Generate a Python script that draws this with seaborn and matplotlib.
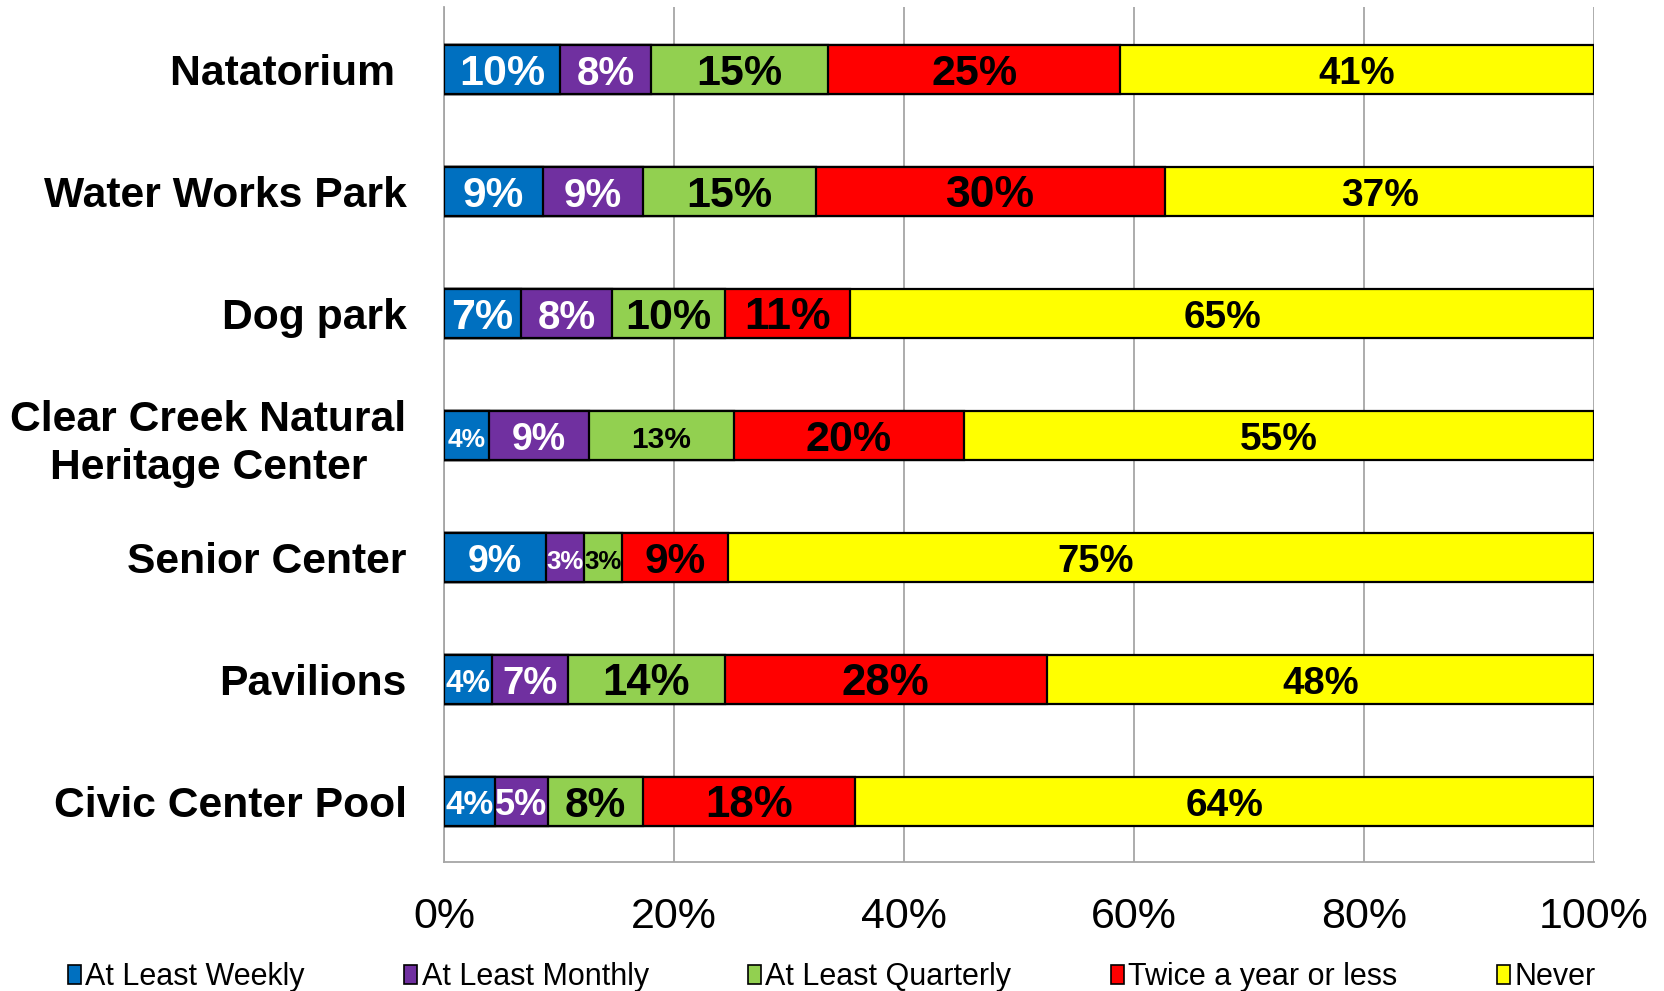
import pandas as pd
import matplotlib
matplotlib.use("Agg")
import matplotlib.pyplot as plt
from matplotlib import font_manager
from matplotlib.patches import Patch
import seaborn as sns

# Données (en %)
facilities = ["Natatorium", "Water Works Park", "Dog park",
              "Clear Creek Natural\nHeritage Center", "Senior Center",
              "Pavilions", "Civic Center Pool"]
series = ["At Least Weekly", "At Least Monthly", "At Least Quarterly",
          "Twice a year or less", "Never"]
weekly = [10.1, 8.6, 6.7, 3.9, 8.9, 4.2, 4.4]
monthly = [7.9, 8.7, 7.9, 8.7, 3.3, 6.6, 4.6]
quarterly = [15.4, 15.0, 9.8, 12.6, 3.3, 13.6, 8.3]
twice = [25.4, 30.4, 10.9, 20.0, 9.2, 28.0, 18.4]
never = [41.2, 37.3, 64.7, 54.8, 75.3, 47.6, 64.3]
xticks = [0, 20, 40, 60, 80, 100]

colors = ["#0070C0", "#7030A0", "#92D050", "#FF0000", "#FFFF00"]
text_colors = ["white", "white", "black", "black", "black"]
# taille des étiquettes (pt), une ligne par installation
label_sizes = [[31, 29, 31, 31, 27.5],
               [30.5, 29, 31, 32, 28],
               [31, 29, 31, 32, 28],
               [19, 27, 21.5, 31, 28],
               [27, 18.5, 18.5, 30.5, 27.5],
               [22.5, 27.5, 31.5, 31.5, 27.5],
               [24, 26, 30.5, 31.5, 28]]

names = {f.name for f in font_manager.fontManager.ttflist}
main_font = "Liberation Sans" if "Liberation Sans" in names else "DejaVu Sans"
narrow_font = "Liberation Sans Narrow" if "Liberation Sans Narrow" in names else main_font

sns.set_style("white")
plt.rcParams["font.family"] = [main_font, "DejaVu Sans"]
plt.rcParams["text.color"] = "black"
plt.rcParams["xtick.color"] = "black"
plt.rcParams["ytick.color"] = "black"

df = pd.DataFrame({"facility": facilities, series[0]: weekly, series[1]: monthly,
                   series[2]: quarterly, series[3]: twice, series[4]: never})
cum = df[series].cumsum(axis=1)
cum["facility"] = facilities

fig = plt.figure(figsize=(16.65, 9.91), dpi=100)
ax = fig.add_axes([0.2667, 0.1302, 0.6907, 0.8628])

# barres empilées : on trace les cumuls du plus grand au plus petit
for i in range(len(series) - 1, -1, -1):
    sns.barplot(data=cum, x=series[i], y="facility", color=colors[i],
                saturation=1, width=0.4, edgecolor="black", linewidth=1.6,
                orient="h", ax=ax, zorder=3)

# étiquettes de pourcentage
for r, fac in enumerate(facilities):
    left = 0
    for i, s in enumerate(series):
        v = df.loc[r, s]
        fam = narrow_font if r == 0 and i < 4 else main_font
        xpos = left + v / 2
        if fac == "Senior Center" and s == "Never":
            xpos -= 5.7  # étiquette déplacée à la main dans l'original
        ax.text(xpos, r + 0.035, f"{round(v):.0f}%", ha="center", va="center",
                color=text_colors[i], fontsize=label_sizes[r][i],
                fontweight="bold", family=[fam, "DejaVu Sans"], zorder=5)
        left += v

ax.set_xlim(0, 100)
ax.set_ylim(6.495, -0.512)
ax.set_xticks(xticks)
ax.set_xticklabels([f"{t}%" for t in xticks], fontsize=31)
ax.set_yticks(range(len(facilities)))
ylabels = [f + " " if f == "Natatorium" else f for f in facilities]
ax.set_yticklabels(ylabels, fontsize=30.7, fontweight="bold",
                   multialignment="center", linespacing=1.25)
ax.tick_params(axis="x", length=0, pad=25)
ax.tick_params(axis="y", length=0, pad=27)
ax.set_xlabel("")
ax.set_ylabel("")
ax.xaxis.grid(True, color="#A6A6A6", linewidth=1.3)
ax.set_axisbelow(True)
for sp in ["top", "right"]:
    ax.spines[sp].set_visible(False)
for sp in ["left", "bottom"]:
    ax.spines[sp].set_color("#A6A6A6")
    ax.spines[sp].set_linewidth(1.3)

handles = [Patch(facecolor=c, edgecolor="black", linewidth=1.2) for c in colors]
fig.legend(handles, series, loc="center", bbox_to_anchor=(0.4995, 0.014),
           ncol=5, frameon=False, handlelength=0.42, handleheight=0.6,
           handletextpad=0.15, columnspacing=3.25,
           prop={"family": [narrow_font, "DejaVu Sans"], "size": 22})

fig.savefig("out.png", dpi=100)
